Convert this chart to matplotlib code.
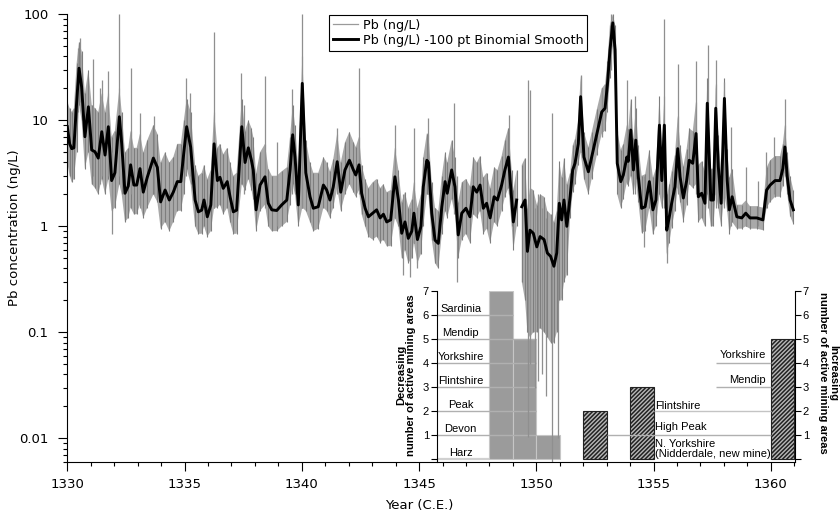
import numpy as np
import matplotlib
matplotlib.use("Agg")
import matplotlib.pyplot as plt
from matplotlib.ticker import FixedLocator, FixedFormatter, LogLocator, NullFormatter
from matplotlib.lines import Line2D

# ---------------- data ----------------
years = [1330.00, 1330.10, 1330.19, 1330.28, 1330.40, 1330.50, 1330.61, 1330.75, 1330.90, 1331.04,
         1331.18, 1331.32, 1331.47, 1331.61, 1331.75, 1331.89, 1332.03, 1332.22, 1332.32, 1332.46,
         1332.60, 1332.70, 1332.84, 1332.96, 1333.10, 1333.24, 1333.41, 1333.67, 1333.84, 1333.98,
         1334.17, 1334.35, 1334.52, 1334.69, 1334.84, 1334.97, 1335.09, 1335.26, 1335.45, 1335.59,
         1335.73, 1335.83, 1335.97, 1336.12, 1336.26, 1336.40, 1336.51, 1336.65, 1336.82, 1336.94,
         1337.08, 1337.22, 1337.44, 1337.58, 1337.72, 1337.85, 1337.93, 1338.05, 1338.22, 1338.43,
         1338.57, 1338.72, 1338.93, 1339.14, 1339.36, 1339.50, 1339.61, 1339.71, 1339.85, 1340.02,
         1340.17, 1340.35, 1340.49, 1340.70, 1340.92, 1341.06, 1341.20, 1341.34, 1341.51, 1341.66,
         1341.84, 1342.03, 1342.20, 1342.30, 1342.44, 1342.55, 1342.70, 1342.84, 1343.02, 1343.19,
         1343.34, 1343.48, 1343.62, 1343.79, 1343.97, 1344.12, 1344.26, 1344.40, 1344.54, 1344.69,
         1344.78, 1344.93, 1345.08, 1345.18, 1345.33, 1345.40, 1345.54, 1345.68, 1345.82, 1345.97,
         1346.11, 1346.20, 1346.39, 1346.53, 1346.67, 1346.82, 1347.00, 1347.17, 1347.31, 1347.46,
         1347.60, 1347.74, 1347.88, 1348.03, 1348.20, 1348.34, 1348.52, 1348.66, 1348.81, 1348.95,
         1349.02, 1349.16, 1349.27, 1349.38, 1349.52, 1349.62, 1349.73, 1349.87, 1350.02, 1350.16,
         1350.33, 1350.47, 1350.61, 1350.75, 1350.87, 1350.98, 1351.08, 1351.18, 1351.30, 1351.44,
         1351.55, 1351.65, 1351.79, 1351.89, 1352.03, 1352.22, 1352.36, 1352.58, 1352.79, 1352.93,
         1353.03, 1353.14, 1353.26, 1353.36, 1353.45, 1353.60, 1353.71, 1353.86, 1353.92, 1354.03,
         1354.14, 1354.24, 1354.35, 1354.49, 1354.64, 1354.82, 1354.97, 1355.10, 1355.25, 1355.35,
         1355.46, 1355.56, 1355.67, 1355.77, 1355.91, 1356.03, 1356.13, 1356.27, 1356.41, 1356.52,
         1356.67, 1356.81, 1356.91, 1357.05, 1357.19, 1357.29, 1357.44, 1357.55, 1357.65, 1357.76,
         1357.88, 1358.02, 1358.14, 1358.23, 1358.35, 1358.55, 1358.76, 1358.93, 1359.11, 1359.40,
         1359.66, 1359.82, 1359.97, 1360.18, 1360.39, 1360.51, 1360.60, 1360.70, 1360.82, 1360.96]

smooth = [8.7, 6.0, 5.4, 5.5, 15, 31, 20.7, 7.0, 13.4, 5.25,
          5.05, 4.4, 7.8, 4.7, 8.7, 2.7, 3.2, 10.8, 6.0, 2.05,
          2.4, 3.8, 2.45, 2.45, 3.5, 2.1, 2.9, 4.4, 3.6, 1.7,
          2.2, 1.77, 2.1, 2.64, 2.64, 5.0, 8.7, 5.6, 1.77, 1.37,
          1.42, 1.77, 1.23, 1.59, 6.0, 2.7, 2.9, 2.28, 2.64, 1.9,
          1.37, 1.42, 8.7, 4.0, 5.5, 4.2, 3.4, 1.43, 2.45, 2.93,
          1.65, 1.43, 1.41, 1.59, 1.77, 3.4, 7.3, 4.5, 1.59, 22.3,
          3.2, 1.9, 1.48, 1.53, 2.45, 2.2, 1.77, 2.35, 4.07, 2.1,
          3.4, 4.2, 3.4, 3.05, 3.8, 2.05, 1.48, 1.23, 1.33, 1.43,
          1.2, 1.3, 1.1, 1.15, 2.93, 1.77, 0.86, 1.1, 0.77, 0.9,
          1.33, 0.75, 1.0, 2.36, 4.2, 4.0, 1.33, 0.74, 0.69, 1.53,
          2.64, 2.05, 3.4, 2.36, 0.83, 1.33, 1.48, 1.23, 2.36, 2.1,
          2.45, 1.48, 1.65, 1.2, 1.9, 1.77, 2.45, 3.4, 4.5, 1.77,
          1.1, 1.77, np.nan, 1.53, 1.77, 0.58, 0.92, 0.86, 0.64, 0.8,
          0.75, 0.56, 0.52, 0.42, 0.56, 1.65, 1.15, 1.77, 1.0, 1.9,
          3.4, 3.93, 6.0, 16.7, 4.5, 3.27, 4.5, 7.5, 12.0, 13.0,
          21.5, 46, 83, 46, 3.93, 2.64, 3.05, 4.5, 4.1, 8.1,
          3.4, 6.5, 2.93, 1.48, 1.53, 2.64, 1.43, 1.77, 9.0, 2.7,
          9.0, 0.92, 1.23, 1.65, 2.36, 5.4, 2.93, 1.85, 2.7, 4.2,
          3.93, 7.5, 1.9, 2.05, 1.65, 14.5, 1.77, 1.77, 13.0, 3.65,
          1.65, 16.1, 2.7, 1.43, 1.9, 1.23, 1.2, 1.33, 1.2, 1.2,
          1.15, 2.2, 2.45, 2.7, 2.7, 3.5, 5.6, 2.93, 1.77, 1.43]

raw_lo = [4.0, 3.0, 2.6, 2.8, 5, 14, 10, 3.5, 5, 2.5,
          2.3, 2.0, 2.8, 2.0, 2.8, 1.4, 1.5, 2.5, 2.0, 1.1,
          1.2, 1.5, 1.3, 1.3, 1.6, 1.2, 1.5, 2.0, 1.7, 0.95,
          1.1, 0.9, 1.1, 1.4, 1.4, 2.0, 3.5, 2.5, 1.0, 0.85,
          0.85, 1.0, 0.8, 0.9, 1.5, 1.5, 1.6, 1.3, 1.5, 1.1,
          0.85, 0.85, 2.5, 2.2, 2.8, 2.2, 1.8, 0.9, 1.4, 1.6,
          1.0, 0.9, 0.9, 1.0, 1.1, 1.6, 2.5, 2.0, 1.0, 1.5,
          1.4, 1.1, 0.9, 0.95, 1.5, 1.4, 1.2, 1.5, 2.3, 1.4,
          2.0, 2.5, 2.1, 1.9, 2.2, 1.3, 1.0, 0.8, 0.75, 0.8,
          0.7, 0.75, 0.65, 0.65, 1.2, 1.0, 0.5, 0.6, 0.45, 0.5,
          0.7, 0.45, 0.55, 1.0, 2.0, 2.0, 0.75, 0.45, 0.4, 0.85,
          1.4, 1.2, 1.8, 1.3, 0.5, 0.75, 0.85, 0.7, 1.3, 1.2,
          1.4, 0.85, 0.95, 0.7, 1.1, 1.0, 1.4, 1.9, 2.3, 1.0,
          0.6, 1.0, np.nan, 0.3, 0.2, 0.1, 0.09, 0.1, 0.1, 0.11,
          0.1, 0.09, 0.08, 0.08, 0.1, 0.2, 0.2, 0.3, 0.35, 1.2,
          2.1, 2.5, 3.8, 5, 2.8, 2.0, 2.8, 4.7, 7.5, 8,
          12, 25, 50, 20, 2.0, 1.5, 1.8, 2.6, 2.4, 3,
          2.0, 2.8, 1.7, 0.87, 0.9, 1.5, 0.84, 1.0, 2.0, 1.5,
          2.0, 0.55, 0.7, 0.97, 1.4, 2.3, 1.7, 1.1, 1.6, 2.5,
          2.3, 2.5, 1.1, 1.2, 1.0, 2.0, 1.0, 1.0, 2.0, 1.5,
          1.0, 2.0, 1.4, 0.85, 1.1, 0.95, 0.95, 1.0, 0.95, 0.95,
          0.92, 1.5, 1.7, 1.9, 1.9, 2.4, 3.2, 2.0, 1.25, 1.05]

raw_hi = [15, 13, 12, 13, 35, 55, 45, 18, 30, 14,
          13, 12, 18, 12, 18, 7, 8, 20, 12, 5,
          5.5, 8, 5.5, 5.5, 7.5, 5, 6.5, 9, 7.5, 4,
          5, 4, 4.5, 6, 6, 10, 16, 12, 3.8, 3.0,
          3.2, 3.8, 2.8, 3.4, 12, 5.5, 6, 4.8, 5.5, 4,
          3, 3.2, 16, 8, 10, 8.5, 7, 3.2, 5, 6,
          3.5, 3, 3, 3.3, 3.6, 7, 14, 9, 3.5, 40,
          6.5, 4, 3.2, 3.2, 4.5, 4, 3.3, 4.3, 7.5, 4,
          6.2, 7.8, 6.3, 5.6, 7, 3.8, 2.8, 2.3, 2.6, 2.8,
          2.3, 2.5, 2.1, 2.2, 5.5, 3.4, 1.7, 2.1, 1.5, 1.8,
          2.6, 1.5, 2.0, 4.5, 7.5, 7.5, 2.6, 1.5, 1.4, 3,
          5, 4, 6.5, 4.5, 1.7, 2.6, 2.8, 2.4, 4.5, 4,
          4.6, 2.9, 3.2, 2.3, 3.6, 3.4, 4.6, 6.5, 8.5, 3.4,
          2.2, 3.4, np.nan, 3.8, 4.4, 1.5, 2.3, 2.2, 1.6, 2.0,
          1.9, 1.4, 1.3, 1.1, 1.4, 4.1, 2.9, 4.4, 2.5, 3.2,
          5.8, 6.7, 10, 26, 7.7, 5.6, 7.7, 12.7, 20, 22,
          36, 80, 100, 80, 8, 5.3, 6, 9, 8.2, 16,
          6.8, 13, 5.9, 3, 3.1, 5.3, 2.9, 3.5, 17, 5.4,
          17, 1.9, 2.5, 3.3, 4.7, 11, 5.9, 3.7, 5.4, 8.4,
          7.9, 15, 3.8, 4.1, 3.3, 25, 3.5, 3.5, 22, 7.3,
          3.3, 25, 5.4, 2.9, 3.5, 1.6, 1.6, 1.75, 1.55, 1.55,
          1.5, 3.6, 4.2, 4.6, 4.6, 6, 9, 5, 3, 2.2]

# isolated tall / deep raw excursions
spike_x = [1330.45, 1330.56, 1331.08, 1331.40, 1331.50, 1331.74, 1331.90, 1332.20, 1332.70, 1333.12,
           1333.68, 1335.08, 1335.22, 1336.25, 1337.42, 1337.55, 1338.43, 1338.93, 1339.60, 1340.01,
           1341.50, 1342.44, 1343.97, 1344.30, 1344.60, 1344.80, 1344.90, 1345.40, 1346.50, 1346.62,
           1348.82, 1349.66, 1349.72, 1349.95, 1350.08, 1350.25, 1350.40, 1350.66, 1350.92, 1351.89,
           1352.80, 1353.20, 1353.85, 1354.20, 1354.60, 1355.46, 1355.58, 1356.02, 1356.81, 1357.30,
           1357.65, 1358.02, 1358.30, 1358.93, 1359.45, 1359.80, 1360.13, 1360.60]
spike_lo = [12, 15, 3, 2.5, 3, 3, 0.85, 3, 2, 1.5,
            2, 3, 3, 1.5, 2.5, 2, 1.5, 1.0, 2, 1.5,
            2, 2, 1.2, 0.35, 0.33, 0.7, 0.4, 2, 1.3, 0.3,
            2, 0.0103, 0.05, 0.03, 0.035, 0.04, 0.025, 0.006, 0.01, 5,
            7, 30, 2.5, 2, 0.64, 1.5, 0.45, 2, 2, 1.5,
            1.5, 1.5, 1.0, 1.0, 1.0, 1.5, 2, 3]
spike_hi = [48, 60, 38, 20, 24, 29, 5, 100, 31, 11.7,
            11, 25, 18, 68, 28, 14, 26, 6.2, 19.6, 100,
            8.4, 31, 9, 2, 1.5, 8.4, 1.5, 10.5, 14.5, 3,
            11.2, 24, 19.4, 1.5, 2.0, 1.5, 1.2, 11.6, 1.6, 26.5,
            20, 100, 24, 17, 3, 91, 2, 34, 36, 51,
            37, 23, 8.6, 3.6, 2.7, 5.0, 7.0, 16]

# mining-area inset
dec_left = [1348, 1349, 1350]
dec_count = [7, 5, 1]
inc_left = [1352, 1354, 1360]
inc_count = [2, 3, 5]
dec_names = ["Harz", "Devon", "Peak", "Flintshire", "Yorkshire", "Mendip", "Sardinia"]
inc_names_left = ["N. Yorkshire\n(Nidderdale, new mine)", "High Peak", "Flintshire"]
inc_names_right = ["Mendip", "Yorkshire"]

y_ticks = [0.01, 0.1, 1, 10, 100]
y_ticklabels = ["0.01", "0.1", "1", "10", "100"]
x_ticks = [1330, 1335, 1340, 1345, 1350, 1355, 1360]

# ---------------- figure ----------------
plt.rcParams['font.family'] = ['DejaVu Sans']
plt.rcParams['hatch.linewidth'] = 1.1
plt.rcParams['hatch.color'] = '#222222'
INSET_FONT = ['Liberation Sans', 'DejaVu Sans']

W, H = 840, 516
fig = plt.figure(figsize=(W / 100, H / 100), dpi=100)
fig.patch.set_facecolor('white')

ax = fig.add_axes([67.3 / W, 1 - 462.3 / H, (795 - 67.3) / W, (462.3 - 14.3) / H])
XMIN, XMAX = 1330, 1361.03
ax.set_xlim(XMIN, XMAX)
ax.set_yscale('log')
ax.set_ylim(0.00594, 100)

# inset axes sharing the year scale
INSET_X0 = 1345.75
pos = ax.get_position()
ix0 = pos.x0 + (INSET_X0 - XMIN) / (XMAX - XMIN) * pos.width
axi = fig.add_axes([ix0, pos.y0, pos.x1 - ix0, (462.3 - 291) / H])
axi.set_xlim(INSET_X0, XMAX)
axi.set_ylim(-0.1375, 7)
ax.set_zorder(2)
ax.patch.set_visible(False)
axi.set_zorder(1)
axi.patch.set_visible(False)

# ---- main data ----
yr = np.array(years)
lo = np.ma.masked_invalid(np.array(raw_lo, dtype=float))
hi = np.ma.masked_invalid(np.array(raw_hi, dtype=float))
sm = np.array(smooth, dtype=float)

ax.fill_between(yr, lo, hi, color='#a9a9a9', linewidth=0, zorder=1)
ok = ~np.isnan(np.array(raw_lo, dtype=float))
ax.vlines(yr[ok], np.array(raw_lo)[ok], np.array(raw_hi)[ok], color='#7e7e7e', lw=0.8, zorder=2)
ax.vlines(spike_x, spike_lo, spike_hi, color='#8f8f8f', lw=0.9, zorder=2)
ax.plot(yr, sm, color='black', lw=2.1, zorder=3, solid_joinstyle='round')

# axes styling
for s in ['top', 'right']:
    ax.spines[s].set_visible(False)
for s in ['left', 'bottom']:
    ax.spines[s].set_linewidth(0.8)
ax.yaxis.set_major_locator(FixedLocator(y_ticks))
ax.yaxis.set_major_formatter(FixedFormatter(y_ticklabels))
ax.yaxis.set_minor_locator(LogLocator(base=10, subs=np.arange(2, 10)))
ax.yaxis.set_minor_formatter(NullFormatter())
ax.set_xticks(x_ticks)
ax.set_xticks(np.arange(1330, 1362), minor=True)
ax.tick_params(axis='both', which='major', direction='out', length=6.5, width=0.8, labelsize=9.5)
ax.tick_params(axis='both', which='minor', direction='out', length=3.2, width=0.8)
ax.tick_params(axis='y', which='major', pad=7)
ax.tick_params(axis='x', which='major', pad=5)

ax.set_ylabel('Pb concentration (ng/L)', fontsize=9.5)
ax.yaxis.set_label_coords(-0.064, 0.523)
ax.set_xlabel('Year (C.E.)', fontsize=9.5)
ax.xaxis.set_label_coords(0.4833, -0.083)

handles = [Line2D([], [], color='#9a9a9a', lw=0.9),
           Line2D([], [], color='black', lw=2.1)]
leg = ax.legend(handles, ['Pb (ng/L)', 'Pb (ng/L) -100 pt Binomial Smooth'],
                loc='upper left', bbox_to_anchor=(329 / W, 1 - 15 / H), bbox_transform=fig.transFigure,
                borderaxespad=0, fancybox=False, framealpha=1, edgecolor='black',
                fontsize=9.2, handlelength=2.0, handletextpad=0.35, labelspacing=0.15, borderpad=0.3)
leg.get_frame().set_linewidth(0.8)

# ---- inset ----
axi.bar(dec_left, dec_count, width=1, align='edge', color='#9b9b9b', edgecolor='#c6c6c6', lw=0.8, zorder=1)
axi.bar(inc_left, inc_count, width=1, align='edge', facecolor='#b8b8b8', edgecolor='#222222',
        hatch='////////', lw=0.8, zorder=1)

lc = '#b0b0b0'
axi.hlines([1, 2, 3, 4, 5], INSET_X0, 1350, color=lc, lw=1.0, zorder=2)
axi.hlines([6], INSET_X0, 1349, color=lc, lw=1.0, zorder=2)
axi.hlines([0], INSET_X0, 1348, color='#d0d0d0', lw=1.6, zorder=2)
axi.hlines([1], 1353, 1360, color=lc, lw=1.0, zorder=2)
axi.hlines([2], 1355, 1360, color='#c4c4c4', lw=1.0, zorder=2)
axi.hlines([3, 4], 1357.65, 1360, color=lc, lw=1.0, zorder=2)

for i, name in enumerate(dec_names):
    axi.text(1346.77, i + 0.27, name, ha='center', va='center', fontsize=8, family=INSET_FONT, zorder=3)
for i, name in enumerate(inc_names_left):
    yy = [0.42, 1.32, 2.22][i]
    axi.text(1355.07, yy, name, ha='left', va='center', fontsize=8, family=INSET_FONT,
             linespacing=0.95, zorder=3)
for i, name in enumerate(inc_names_right):
    yy = [3.29, 4.35][i]
    axi.text(1359.79, yy, name, ha='right', va='center', fontsize=8, family=INSET_FONT, zorder=3)

for s in ['top', 'bottom']:
    axi.spines[s].set_visible(False)
for s in ['left', 'right']:
    axi.spines[s].set_linewidth(0.8)
axi.set_xticks([])
axi.set_yticks(range(0, 8))
axi.set_yticklabels([''] + [str(i) for i in range(1, 8)], fontsize=8, family=INSET_FONT)
axi.tick_params(axis='y', left=True, right=True, labelleft=True, labelright=True,
                direction='out', length=4, width=0.8, pad=1.5)

fig.text(406 / W, 1 - 375 / H, "Decreasing\nnumber of active mining areas", rotation=90,
         ha='center', va='center', fontsize=8, fontweight='bold', family=INSET_FONT, linespacing=1.0)
fig.text(828 / W, 1 - 373 / H, "Increasing\nnumber of active mining areas", rotation=270,
         ha='center', va='center', fontsize=8, fontweight='bold', family=INSET_FONT, linespacing=1.0)

fig.savefig('out.png', dpi=100, facecolor='white')
